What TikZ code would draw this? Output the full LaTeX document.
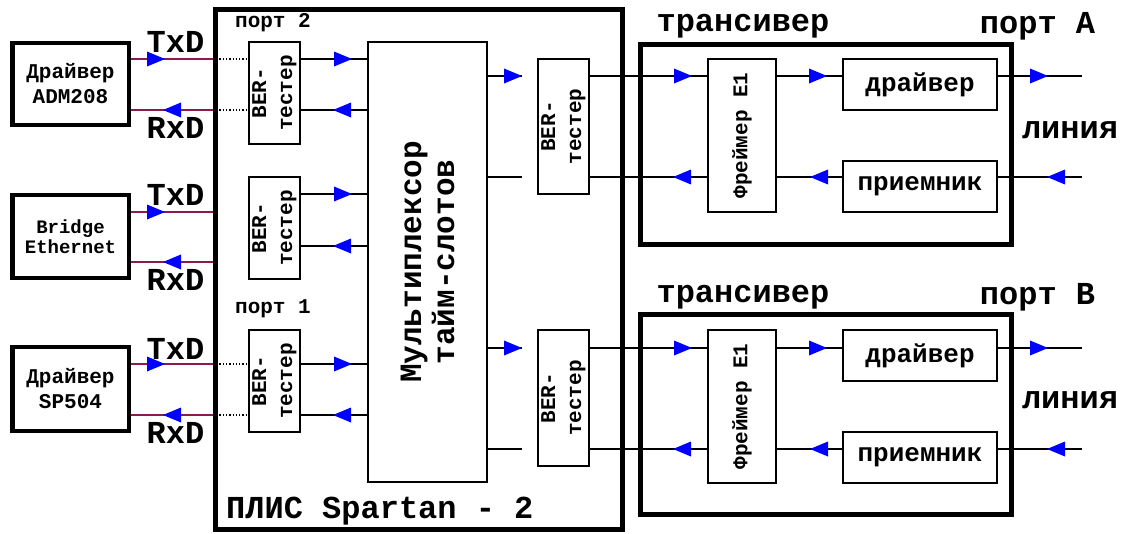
\documentclass[tikz,border=0pt]{standalone}
\usepackage{fontspec}
\setmainfont{Liberation Mono}
\definecolor{purp}{RGB}{139,26,80}
\newcommand\arR[2]{\fill[blue] (#1-18,#2-7.5) -- (#1,#2) -- (#1-18,#2+7.5) -- cycle;}
\newcommand\arL[2]{\fill[blue] (#1+18,#2-7.5) -- (#1,#2) -- (#1+18,#2+7.5) -- cycle;}
\tikzset{
  bigbox/.style={draw, line width=4.5pt, inner sep=0pt, align=center},
  smallbox/.style={draw, line width=1.3pt, inner sep=0pt},
  sig/.style={line width=1.3pt},
  purpline/.style={line width=1.8pt, draw=purp},
  dotline/.style={line width=1.3pt, dash pattern=on 1.3pt off 2pt},
  lbl/.style={inner sep=0pt, font=\bfseries\fontsize{32}{34}\selectfont},
  mid/.style={inner sep=0pt, align=center, font=\bfseries\fontsize{21}{25}\selectfont},
  vert/.style={inner sep=0pt, align=center, rotate=90, font=\bfseries\fontsize{21}{26}\selectfont},
}
\begin{document}
\begin{tikzpicture}[x=1pt,y=-1pt]
\useasboundingbox (0,0) rectangle (1126,533);
% level coordinates
\foreach \n/\v in {T1/59,R1/110,T2/212,R2/262,T3/364,R3/415,a1/194,a2/246,U1/76,U2/177,V1/348,V2/449}
  {\coordinate (y\n) at (0,\v);}
% left boxes
\node[bigbox, mid, minimum width=116.5pt, minimum height=82pt] (d1) at (70.5,84) {Драйвер\\ADM208};
\node[bigbox, inner sep=0pt, align=center, font=\bfseries\fontsize{19}{20}\selectfont, minimum width=116.5pt, minimum height=83pt] (br) at (70.5,236.5) {Bridge\\Ethernet};
\node[bigbox, mid, minimum width=116.5pt, minimum height=84pt] (d3) at (70.5,389) {Драйвер\\SP504};
% FPGA
\node[draw, line width=5pt, minimum width=407pt, minimum height=520pt] (pl) at (419,269.5) {};
\node[lbl, anchor=west] (pltxt) at (226,511) {ПЛИС Spartan - 2};
\node[mid] (p2) at (273,23) {порт 2};
\node[mid] (p1) at (273,309) {порт 1};
% BER testers
\node[smallbox, minimum width=51pt, minimum height=102pt] (b1) at (274.5,93) {};
\node[smallbox, minimum width=51pt, minimum height=102pt] (b2) at (274.5,228) {};
\node[smallbox, minimum width=51pt, minimum height=102pt] (b3) at (274.5,381) {};
\node[smallbox, minimum width=51pt, minimum height=135pt] (b4) at (563.5,126.5) {};
\node[smallbox, minimum width=51pt, minimum height=136pt] (b5) at (563.5,398) {};
\foreach \b in {b1,b2,b3,b4,b5} {\node[vert] at (\b.center) {BER-\\тестер};}
% mux
\node[smallbox, minimum width=119pt, minimum height=440pt] (mux) at (427.5,262) {};
\node[inner sep=0pt, align=center, rotate=90, font=\bfseries\fontsize{31}{33}\selectfont] (muxt) at (mux.center) {Мультиплексор\\тайм-слотов};
% transceivers
\node[bigbox, minimum width=371pt, minimum height=200pt] (tA) at (826,144.5) {};
\node[bigbox, minimum width=371pt, minimum height=200pt] (tB) at (826,414.5) {};
\node[smallbox, minimum width=68pt, minimum height=153pt] (fA) at (742,135.5) {};
\node[smallbox, minimum width=68pt, minimum height=153pt] (fB) at (742,406.5) {};
\node[vert] at (fA.center) {Фреймер E1};
\node[vert] at (fB.center) {Фреймер E1};
\node[smallbox, minimum width=154pt, minimum height=51pt, font=\bfseries\fontsize{26}{28}\selectfont] (dA) at (920,84.5) {драйвер};
\node[smallbox, minimum width=154pt, minimum height=51pt, font=\bfseries\fontsize{26}{28}\selectfont] (rA) at (920,186.5) {приемник};
\node[smallbox, minimum width=154pt, minimum height=51pt, font=\bfseries\fontsize{26}{28}\selectfont] (dB) at (920,355.5) {драйвер};
\node[smallbox, minimum width=154pt, minimum height=51pt, font=\bfseries\fontsize{26}{28}\selectfont] (rB) at (920,457.5) {приемник};
\node[lbl] (trA) at (743,26) {трансивер};
\node[lbl] (trB) at (743,297) {трансивер};
\node[lbl] (ptA) at (1037.5,26) {порт A};
\node[lbl] (ptB) at (1037.5,297) {порт B};
\node[lbl] (lnA) at (1070,130) {линия};
\node[lbl] (lnB) at (1070,400) {линия};
% TxD / RxD labels
\foreach \y/\t in {42/TxD,128/RxD,195/TxD,280/RxD,349/TxD,433/RxD}
  {\node[lbl] at (175.5,\y) {\t};}
% purple lines
\draw[purpline] (d1.east|-yT1) -- (pl.west|-yT1);
\draw[purpline] (d1.east|-yR1) -- (pl.west|-yR1);
\draw[purpline] (br.east|-yT2) -- (pl.west|-yT2);
\draw[purpline] (br.east|-yR2) -- (pl.west|-yR2);
\draw[purpline] (d3.east|-yT3) -- (pl.west|-yT3);
\draw[purpline] (d3.east|-yR3) -- (pl.west|-yR3);
\arR{165}{59} \arL{163}{110} \arR{165}{212} \arL{163}{262} \arR{165}{364} \arL{163}{415}
% dotted links
\foreach \l/\b in {T1/b1,R1/b1,T3/b3,R3/b3}
  {\draw[dotline] ([xshift=3pt]pl.west|-y\l) -- (\b.west|-y\l);}
% BER -> mux
\foreach \l/\b in {T1/b1,R1/b1,a1/b2,a2/b2,T3/b3,R3/b3}
  {\draw[sig] (\b.east|-y\l) -- (mux.west|-y\l);}
\arR{352}{59} \arL{333}{110} \arR{352}{194} \arL{333}{246} \arR{352}{364} \arL{333}{415}
% mux -> right BER
\coordinate (m1) at (522,76);
\coordinate (m2) at (522,177);
\coordinate (m3) at (522,348);
\coordinate (m4) at (522,449);
\draw[sig] (mux.east|-m1) -- (m1);
\draw[sig] (mux.east|-m2) -- (m2);
\draw[sig] (mux.east|-m3) -- (m3);
\draw[sig] (mux.east|-m4) -- (m4);
\arR{522}{76} \arR{522}{348}
% BER -> framer -> driver / receiver
\draw[sig] (b4.east|-yU1) -- (fA.west|-yU1);
\draw[sig] (b4.east|-yU2) -- (fA.west|-yU2);
\draw[sig] (fA.east|-yU1) -- (dA.west|-yU1);
\draw[sig] (fA.east|-yU2) -- (rA.west|-yU2);
\coordinate (oA1) at (1082,76);
\coordinate (oA2) at (1082,177);
\draw[sig] (dA.east|-yU1) -- (oA1);
\draw[sig] (rA.east|-yU2) -- (oA2);
\arR{692}{76} \arR{827}{76} \arR{1048}{76}
\arL{673}{177} \arL{810}{177} \arL{1047}{177}
\draw[sig] (b5.east|-yV1) -- (fB.west|-yV1);
\draw[sig] (b5.east|-yV2) -- (fB.west|-yV2);
\draw[sig] (fB.east|-yV1) -- (dB.west|-yV1);
\draw[sig] (fB.east|-yV2) -- (rB.west|-yV2);
\coordinate (oB1) at (1082,348);
\coordinate (oB2) at (1082,449);
\draw[sig] (dB.east|-yV1) -- (oB1);
\draw[sig] (rB.east|-yV2) -- (oB2);
\arR{692}{348} \arR{827}{348} \arR{1048}{348}
\arL{673}{449} \arL{810}{449} \arL{1047}{449}
\end{tikzpicture}
\end{document}
